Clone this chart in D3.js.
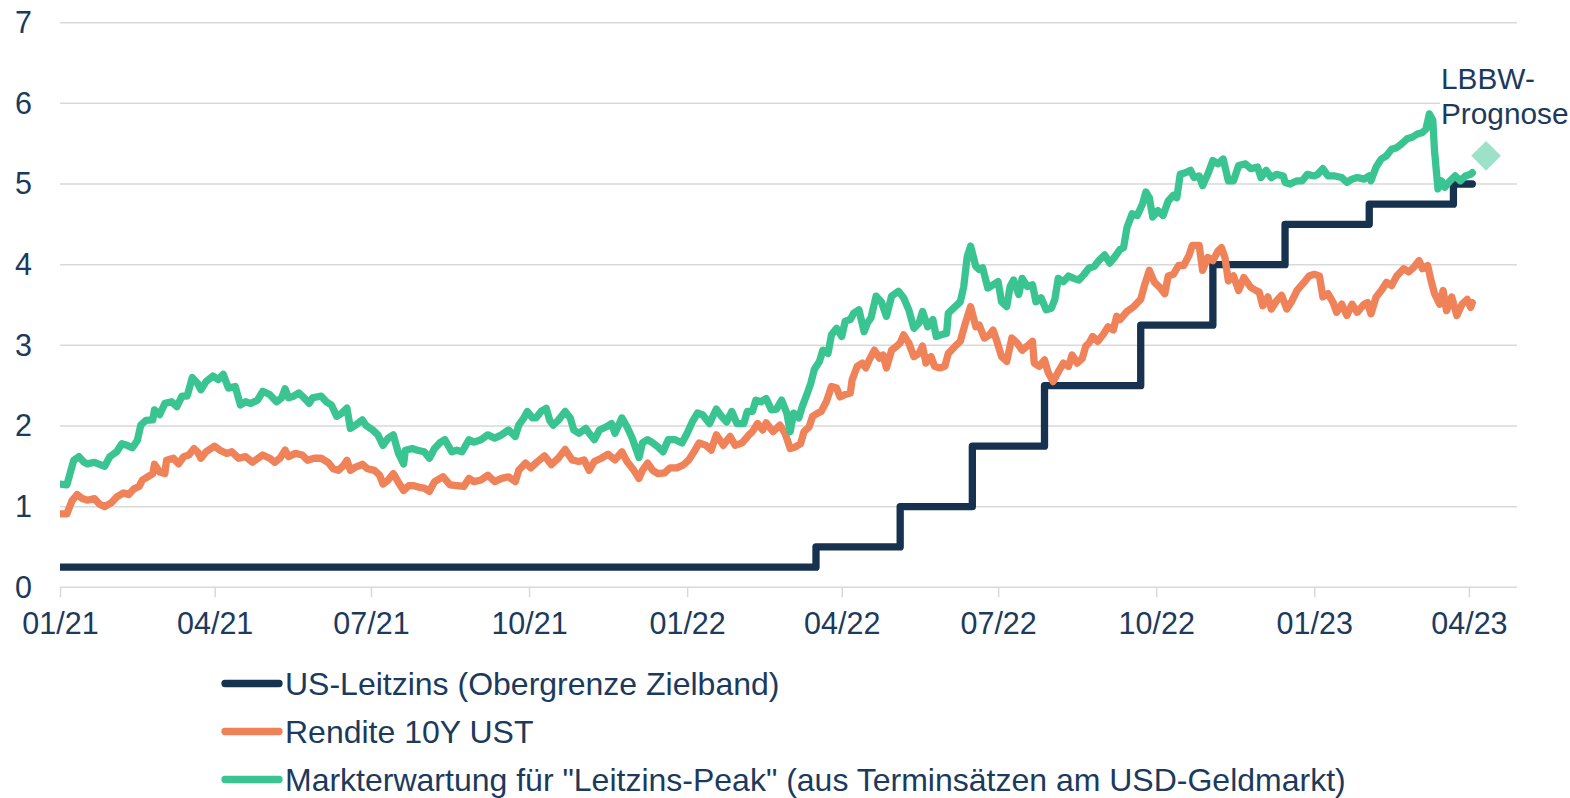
<!DOCTYPE html>
<html><head><meta charset="utf-8">
<script src="https://cdn.jsdelivr.net/npm/d3@7"></script>
<style>
html,body{margin:0;padding:0;background:#fff;}
svg{display:block;font-family:"Liberation Sans",Arial,sans-serif;}
</style></head><body>
<svg id="chart" width="1570" height="798"></svg>
<script>
// ---------- DATA ----------
const startDate = "2021-01-01";          // day 0 of the series below
const domainEnd = "2023-04-29";
const yTicks = [0, 1, 2, 3, 4, 5, 6, 7];
const xTickDates = ["2021-01-01","2021-04-01","2021-07-01","2021-10-01","2022-01-01","2022-04-01","2022-07-01","2022-10-01","2023-01-01","2023-04-01"];
const seriesNames = ["US-Leitzins (Obergrenze Zielband)", "Rendite 10Y UST", "Markterwartung für \"Leitzins-Peak\" (aus Terminsätzen am USD-Geldmarkt)"];
const annotationLines = ["LBBW-", "Prognose"];

// US policy rate (upper bound): change dates and levels
const fedDates = ["2021-01-01","2022-03-17","2022-05-05","2022-06-16","2022-07-28","2022-09-22","2022-11-03","2022-12-15","2023-02-02","2023-03-23","2023-04-03"];
const fedRates = [0.25, 0.5, 1.0, 1.75, 2.5, 3.25, 4.0, 4.5, 4.75, 5.0, 5.0];

// 10Y UST yield: [days since startDate, value]
const yield10y = [[0,0.91],[4,0.91],[7,1.075],[10,1.15],[13,1.1],[16,1.08],[20,1.1],[23,1.03],[26,1.0],[30,1.05],[33,1.12],[37,1.17],[40,1.15],[43,1.22],[46,1.25],[48,1.33],[51,1.37],[54,1.41],[55,1.525],[58,1.43],[61,1.41],[62,1.575],[66,1.6],[69,1.53],[72,1.62],[75,1.64],[78,1.72],[80,1.68],[82,1.6],[85,1.68],[90,1.75],[93,1.7],[97,1.66],[100,1.68],[104,1.6],[108,1.62],[112,1.55],[114,1.58],[118,1.64],[122,1.6],[125,1.55],[128,1.6],[131,1.7],[133,1.62],[137,1.66],[141,1.64],[144,1.575],[148,1.6],[152,1.6],[156,1.55],[159,1.47],[162,1.45],[165,1.51],[167,1.575],[169,1.45],[172,1.49],[176,1.525],[179,1.47],[183,1.45],[186,1.39],[188,1.28],[191,1.33],[194,1.41],[197,1.3],[200,1.2],[203,1.26],[206,1.26],[209,1.24],[212,1.23],[215,1.19],[218,1.31],[223,1.37],[227,1.27],[231,1.26],[235,1.25],[238,1.35],[241,1.31],[245,1.33],[249,1.39],[253,1.31],[257,1.35],[261,1.37],[265,1.31],[267,1.45],[271,1.54],[274,1.48],[278,1.56],[282,1.63],[286,1.52],[290,1.6],[294,1.71],[298,1.58],[302,1.56],[305,1.58],[308,1.45],[311,1.56],[315,1.6],[319,1.65],[323,1.58],[327,1.68],[330,1.56],[334,1.45],[337,1.35],[339,1.45],[342,1.54],[345,1.45],[348,1.41],[352,1.42],[355,1.48],[359,1.48],[363,1.52],[366,1.58],[369,1.68],[372,1.79],[376,1.76],[379,1.7],[382,1.89],[386,1.76],[390,1.87],[393,1.76],[397,1.79],[401,1.89],[403,1.93],[406,2.03],[409,1.95],[411,2.04],[415,1.93],[419,2.01],[422,1.91],[425,1.72],[428,1.74],[431,1.78],[433,1.93],[436,1.99],[438,2.12],[441,2.16],[443,2.18],[446,2.3],[449,2.49],[452,2.47],[454,2.36],[457,2.39],[460,2.41],[461,2.57],[464,2.74],[467,2.78],[469,2.72],[471,2.82],[474,2.94],[477,2.84],[479,2.88],[481,2.72],[484,2.94],[487,2.99],[489,3.03],[491,3.13],[494,3.03],[497,2.86],[500,2.9],[502,2.99],[504,2.78],[507,2.86],[509,2.74],[512,2.72],[515,2.74],[517,2.9],[521,2.99],[524,3.05],[527,3.28],[530,3.48],[533,3.23],[535,3.25],[538,3.09],[541,3.13],[543,3.19],[545,3.07],[548,2.86],[551,2.8],[554,3.09],[557,3.03],[560,2.94],[564,3.01],[566,3.05],[567,2.78],[570,2.74],[573,2.82],[575,2.67],[578,2.55],[581,2.67],[584,2.78],[587,2.74],[589,2.88],[592,2.78],[595,2.84],[597,2.99],[599,3.03],[601,3.11],[604,3.05],[607,3.13],[610,3.23],[613,3.19],[615,3.36],[617,3.32],[621,3.42],[625,3.48],[629,3.57],[631,3.73],[634,3.93],[637,3.78],[640,3.72],[643,3.64],[645,3.86],[648,3.88],[651,3.99],[654,3.99],[657,4.11],[659,4.24],[663,4.24],[665,3.93],[668,4.09],[671,4.05],[674,4.17],[676,4.21],[678,4.09],[680,3.8],[683,3.86],[686,3.68],[689,3.84],[693,3.72],[696,3.68],[698,3.66],[700,3.49],[703,3.6],[705,3.45],[708,3.55],[711,3.62],[714,3.45],[717,3.55],[720,3.68],[724,3.78],[727,3.86],[730,3.88],[733,3.86],[735,3.6],[738,3.64],[741,3.53],[743,3.41],[746,3.51],[749,3.37],[752,3.51],[755,3.41],[759,3.51],[761,3.53],[763,3.39],[766,3.6],[769,3.68],[772,3.78],[775,3.74],[778,3.86],[782,3.95],[785,3.91],[788,3.97],[791,4.05],[793,3.95],[796,3.99],[798,3.8],[800,3.64],[803,3.51],[805,3.68],[807,3.43],[810,3.6],[813,3.37],[816,3.51],[819,3.57],[821,3.47],[822,3.53]];

// Market-implied peak policy rate: [days since startDate, value]
const marketPeak = [[0,1.28],[4,1.27],[8,1.575],[11,1.62],[14,1.55],[16,1.53],[20,1.55],[26,1.5],[29,1.62],[33,1.68],[36,1.78],[39,1.76],[42,1.73],[45,1.82],[47,2.01],[50,2.07],[54,2.075],[55,2.2],[58,2.14],[61,2.28],[65,2.3],[68,2.24],[71,2.37],[74,2.37],[77,2.6],[80,2.53],[82,2.45],[85,2.55],[89,2.62],[92,2.575],[95,2.64],[98,2.47],[102,2.49],[105,2.26],[108,2.3],[111,2.28],[115,2.32],[118,2.43],[122,2.39],[126,2.3],[129,2.35],[131,2.46],[133,2.35],[136,2.37],[139,2.41],[142,2.35],[145,2.28],[147,2.35],[152,2.37],[155,2.3],[158,2.26],[161,2.12],[164,2.16],[167,2.22],[169,1.97],[172,2.01],[176,2.075],[178,2.01],[182,1.95],[185,1.89],[188,1.76],[191,1.85],[194,1.89],[197,1.66],[200,1.53],[201,1.7],[205,1.72],[208,1.7],[212,1.68],[215,1.6],[218,1.72],[221,1.79],[224,1.83],[228,1.68],[231,1.7],[234,1.68],[238,1.83],[241,1.8],[245,1.83],[249,1.89],[253,1.85],[257,1.89],[261,1.95],[265,1.87],[267,2.01],[270,2.1],[272,2.18],[275,2.1],[277,2.1],[280,2.18],[283,2.22],[285,2.07],[287,2.01],[290,2.07],[294,2.18],[297,2.1],[299,1.95],[302,1.91],[306,1.97],[308,1.91],[311,1.83],[314,1.95],[318,1.99],[321,2.03],[323,1.91],[327,2.1],[330,1.99],[333,1.85],[337,1.61],[339,1.79],[342,1.83],[345,1.79],[348,1.74],[351,1.68],[354,1.83],[358,1.83],[362,1.79],[365,1.91],[368,2.05],[371,2.16],[374,2.14],[378,2.03],[382,2.21],[385,2.12],[388,2.05],[391,2.18],[394,2.03],[398,2.03],[400,2.18],[403,2.18],[405,2.32],[408,2.3],[411,2.34],[414,2.2],[417,2.21],[420,2.32],[423,2.16],[425,1.93],[427,2.16],[430,2.1],[432,2.24],[435,2.41],[437,2.53],[439,2.7],[442,2.8],[444,2.94],[447,2.9],[449,3.13],[452,3.21],[455,3.11],[457,3.3],[460,3.32],[462,3.4],[465,3.44],[468,3.17],[470,3.28],[472,3.34],[475,3.61],[478,3.54],[481,3.36],[484,3.61],[488,3.67],[491,3.59],[494,3.44],[497,3.21],[500,3.28],[502,3.42],[505,3.23],[508,3.32],[510,3.11],[513,3.13],[516,3.15],[517,3.4],[520,3.46],[524,3.54],[526,3.73],[528,4.1],[530,4.23],[533,3.98],[535,3.94],[537,3.96],[540,3.71],[543,3.75],[546,3.79],[548,3.54],[551,3.48],[553,3.73],[555,3.81],[558,3.63],[560,3.83],[563,3.73],[566,3.75],[568,3.54],[571,3.59],[574,3.44],[577,3.46],[579,3.57],[581,3.83],[584,3.79],[587,3.86],[590,3.83],[593,3.81],[596,3.88],[599,3.96],[602,3.98],[605,4.06],[608,4.12],[611,4.02],[614,4.1],[617,4.19],[619,4.21],[621,4.46],[624,4.63],[627,4.61],[630,4.75],[632,4.9],[634,4.83],[636,4.59],[639,4.67],[642,4.61],[645,4.79],[648,4.86],[650,4.83],[652,5.12],[655,5.14],[658,5.17],[660,5.08],[663,5.1],[665,4.98],[668,5.12],[671,5.29],[674,5.25],[677,5.31],[680,5.04],[683,5.04],[686,5.23],[690,5.25],[693,5.19],[697,5.21],[699,5.08],[702,5.17],[705,5.08],[708,5.12],[712,5.1],[713,5.02],[716,5.0],[720,5.04],[723,5.04],[726,5.12],[730,5.1],[732,5.12],[735,5.19],[738,5.1],[742,5.1],[746,5.08],[749,5.02],[752,5.06],[755,5.08],[759,5.06],[762,5.1],[763,5.04],[766,5.21],[769,5.31],[772,5.35],[775,5.43],[778,5.45],[781,5.5],[784,5.56],[787,5.58],[790,5.62],[793,5.64],[795,5.68],[797,5.87],[799,5.79],[800,5.41],[802,4.94],[804,5.04],[806,4.96],[809,5.04],[812,5.1],[815,5.04],[818,5.1],[821,5.12],[822,5.14]];

// LBBW forecast marker
const forecastDate = "2023-04-11";
const forecastValue = 5.35;

// ---------- STYLE ----------
const colors = ["#16324f", "#f0825a", "#39c492"];
const forecastColor = "#9de2c8";
const textColor = "#1b3a5c";
const gridColor = "#d9d9d9";

// ---------- CHART ----------
const svg = d3.select("#chart");
const parse = d3.utcParse("%Y-%m-%d");
const t0 = parse(startDate);
const dayToDate = d => d3.utcDay.offset(t0, d);

const x = d3.scaleUtc().domain([t0, parse(domainEnd)]).range([60, 1517]);
const y = d3.scaleLinear().domain([0, 7]).range([587.3, 22.7]);

svg.append("defs").append("clipPath").attr("id", "plotclip")
  .append("rect").attr("x", 60).attr("y", 0).attr("width", 1510).attr("height", 640);

// gridlines
svg.append("g").selectAll("line").data(yTicks).join("line")
  .attr("x1", x.range()[0]).attr("x2", x.range()[1])
  .attr("y1", d => y(d)).attr("y2", d => y(d))
  .attr("stroke", gridColor).attr("stroke-width", 1.5);

// x axis
const xAxis = svg.append("g").attr("transform", `translate(0,${y(0)})`)
  .call(d3.axisBottom(x).tickValues(xTickDates.map(parse)).tickFormat(d3.utcFormat("%m/%y")).tickSize(10).tickPadding(15));
xAxis.select(".domain").remove();
xAxis.selectAll(".tick line").attr("stroke", gridColor).attr("stroke-width", 1.5);
xAxis.selectAll(".tick text").attr("fill", textColor).style("font-size", "30.5px").style("font-family", "Liberation Sans, Arial, sans-serif");

// y axis
const yAxis = svg.append("g").attr("transform", "translate(32,0)")
  .call(d3.axisLeft(y).tickValues(yTicks).tickFormat(d3.format("d")).tickSize(0).tickPadding(0));
yAxis.select(".domain").remove();
yAxis.selectAll(".tick text").attr("fill", textColor).style("font-size", "30.5px").style("font-family", "Liberation Sans, Arial, sans-serif");

// annotation box (white background hides the gridline behind it)
svg.append("rect").attr("x", 1440).attr("y", 60).attr("width", 130).attr("height", 75).attr("fill", "#fff");
svg.append("g").selectAll("text").data(annotationLines).join("text")
  .attr("x", 1441).attr("y", (d, i) => 89 + i * 35)
  .attr("fill", textColor).style("font-size", "29.8px").text(d => d);

// series
const plot = svg.append("g").attr("clip-path", "url(#plotclip)");
const fedPts = fedDates.map((d, i) => [parse(d), fedRates[i]]);
const stepLine = d3.line().x(d => x(d[0])).y(d => y(d[1])).curve(d3.curveStepAfter);
const dayLine = d3.line().x(d => x(dayToDate(d[0]))).y(d => y(d[1]));

const lineStyle = sel => sel.attr("fill", "none").attr("stroke-width", 7.3)
  .attr("stroke-linejoin", "round").attr("stroke-linecap", "round");

plot.append("path").datum(fedPts).attr("d", stepLine).attr("stroke", colors[0]).call(lineStyle);
plot.append("path").datum(yield10y).attr("d", dayLine).attr("stroke", colors[1]).call(lineStyle);
plot.append("path").datum(marketPeak).attr("d", dayLine).attr("stroke", colors[2]).call(lineStyle);

// forecast diamond
svg.append("path")
  .attr("d", d3.symbol(d3.symbolSquare, 441)())
  .attr("transform", `translate(${x(parse(forecastDate))},${y(forecastValue)}) rotate(45)`)
  .attr("fill", forecastColor);

// legend
const legend = svg.append("g").selectAll("g").data(seriesNames).join("g")
  .attr("transform", (d, i) => `translate(0,${683.5 + i * 48})`);
legend.append("line").attr("x1", 225).attr("x2", 279).attr("y1", 0).attr("y2", 0)
  .attr("stroke", (d, i) => colors[i]).attr("stroke-width", 7.3).attr("stroke-linecap", "round");
legend.append("text").attr("x", 285).attr("y", 11)
  .attr("fill", textColor).style("font-size", "32px").text(d => d);
</script>
</body></html>
